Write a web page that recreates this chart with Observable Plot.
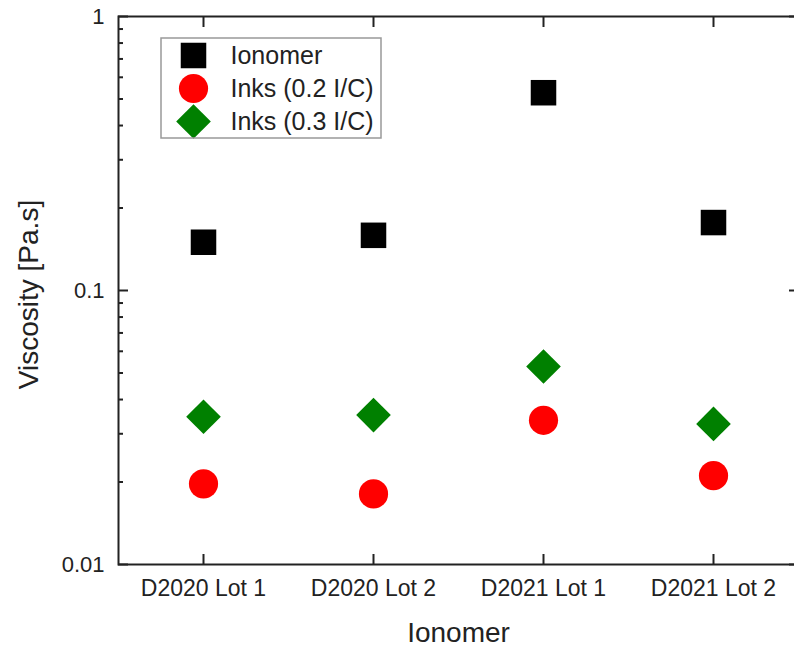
<!DOCTYPE html>
<html><head><meta charset="utf-8">
<script src="https://cdn.jsdelivr.net/npm/d3@7"></script>
<script src="https://cdn.jsdelivr.net/npm/@observablehq/plot@0.6"></script>
<style>html,body{margin:0;padding:0;overflow:hidden;background:#fff}</style>
</head><body><div id="chart"></div>
<script>
// ---- data ----
const categories = ["D2020 Lot 1", "D2020 Lot 2", "D2021 Lot 1", "D2021 Lot 2"];
const seriesNames = ["Ionomer", "Inks (0.2 I/C)", "Inks (0.3 I/C)"];
const ionomer = [0.150, 0.159, 0.527, 0.177];
const inks02 = [0.0197, 0.0181, 0.0336, 0.0211];
const inks03 = [0.0346, 0.0351, 0.0528, 0.0326];
const yMajorTicks = [0.01, 0.1, 1];
const yTickLabels = ["0.01", "0.1", "1"];
const xTitle = "Ionomer";
const yTitle = "Viscosity [Pa.s]";

// ---- styles ----
const seriesColors = ["#000000", "#ff0000", "#008000"];
const seriesSymbols = ["square", "circle", "diamond2"];
const seriesR = [14.4, 14.6, 15.6];

const seriesValues = [ionomer, inks02, inks03];
const rows = [];
seriesNames.forEach((s, si) => categories.forEach((c, ci) => rows.push({category: c, series: s, value: seriesValues[si][ci]})));

const yMinorTicks = [];
for (const base of [0.01, 0.1]) for (let k = 2; k <= 9; k++) yMinorTicks.push(+(base * k).toPrecision(3));

const INK = "#222";
const FONT = "'Liberation Sans', Arial, sans-serif";
const mLeft = 118, mTop = 16, W = 800, H = 648, mBottom = 84, mRight = 2;

const legendRowY = [55, 88, 121];
const legendMarks = [];
seriesNames.forEach((s, i) => {
  legendMarks.push(Plot.dot([s], {frameAnchor: "top-left", dx: 75, dy: legendRowY[i] - mTop,
    symbol: seriesSymbols[i], fill: seriesColors[i], r: seriesR[i], stroke: "none"}));
  legendMarks.push(Plot.text([s], {text: d => d, frameAnchor: "top-left", dx: 112, dy: legendRowY[i] - mTop,
    textAnchor: "start", lineAnchor: "middle", fontSize: 25, fill: INK}));
});

const chart = Plot.plot({
  width: W, height: H,
  marginLeft: mLeft, marginRight: mRight, marginTop: mTop, marginBottom: mBottom,
  style: {fontFamily: FONT, fontSize: "22px", color: INK, background: "#fff", maxWidth: "none"},
  x: {type: "point", domain: categories, padding: 0.5},
  y: {type: "log", domain: [0.01, 1]},
  marks: [
    Plot.axisY({anchor: "left", ticks: yMajorTicks, tickSize: -10, tickPadding: 24,
      tickFormat: d => yTickLabels[yMajorTicks.indexOf(d)], fontSize: 22, strokeWidth: 2, stroke: INK, fill: INK, label: null}),
    Plot.axisY({anchor: "left", ticks: yMinorTicks, tickSize: -5, tickFormat: () => "", strokeWidth: 2, stroke: INK, label: null}),
    Plot.axisY({anchor: "right", ticks: yMajorTicks, tickSize: -10, tickFormat: () => "", strokeWidth: 2, stroke: INK, label: null}),
    Plot.axisY({anchor: "right", ticks: yMinorTicks, tickSize: -5, tickFormat: () => "", strokeWidth: 2, stroke: INK, label: null}),
    Plot.axisX({anchor: "bottom", tickSize: -10, tickPadding: 25, fontSize: 23, strokeWidth: 2, stroke: INK, fill: INK, label: null}),
    Plot.axisX({anchor: "top", tickSize: -10, tickFormat: () => "", strokeWidth: 2, stroke: INK, label: null}),
    Plot.frame({stroke: INK, strokeWidth: 2}),
    ...seriesNames.map((s, i) => Plot.dot(rows.filter(d => d.series === s), {
      x: "category", y: "value", symbol: seriesSymbols[i], fill: seriesColors[i], r: seriesR[i], stroke: "none"})),
    Plot.text([xTitle], {text: d => d, frameAnchor: "bottom", dy: 69, fontSize: 28, fill: INK, textAnchor: "middle", lineAnchor: "middle"}),
    Plot.text([yTitle], {text: d => d, frameAnchor: "left", dx: -89, dy: 4, rotate: -90, fontSize: 28, fill: INK, textAnchor: "middle", lineAnchor: "middle"}),
    ...legendMarks
  ]
});

document.getElementById("chart").appendChild(chart);

d3.select(chart).append("rect")
  .attr("x", mLeft + 43).attr("y", 38).attr("width", 220).attr("height", 100)
  .attr("fill", "none").attr("stroke", "#999").attr("stroke-width", 1.5);
</script>
</body></html>
